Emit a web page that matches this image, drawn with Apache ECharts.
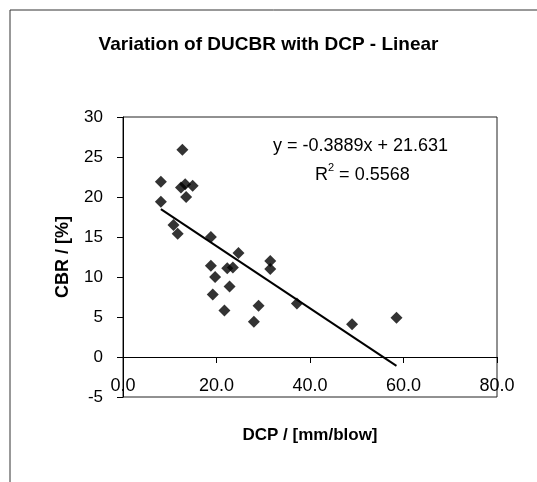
<!DOCTYPE html>
<html>
<head>
<meta charset="utf-8">
<script src="https://cdn.jsdelivr.net/npm/echarts@6/dist/echarts.min.js"></script>
<style>
html,body{margin:0;padding:0;background:#fff;}
#chart{width:537px;height:482px;}
</style>
</head>
<body>
<div id="chart"></div>
<script>
const chartTitle = 'Variation of DUCBR with DCP - Linear';
const xAxisTitle = 'DCP / [mm/blow]';
const yAxisTitle = 'CBR / [%]';
const dcp = [8.1, 8.1, 12.7, 12.4, 13.3, 14.9, 13.5, 10.8, 11.7, 18.8, 24.7, 18.8, 19.7, 22.3, 23.5, 22.8, 19.2, 21.7, 29.0, 28.0, 31.5, 31.5, 37.2, 49.0, 58.5];
const cbr = [21.9, 19.4, 25.9, 21.2, 21.6, 21.4, 20.0, 16.5, 15.4, 15.0, 13.0, 11.4, 10.0, 11.1, 11.2, 8.8, 7.8, 5.8, 6.4, 4.4, 12.0, 11.0, 6.7, 4.1, 4.9];
const slope = -0.3889;
const intercept = 21.631;
const r2 = 0.5568;

const points = dcp.map((x, i) => [x, cbr[i]]);
const xMin = Math.min(...dcp), xMax = Math.max(...dcp);
const trend = [[xMin, slope * xMin + intercept], [xMax, slope * xMax + intercept]];

const font = 'Liberation Sans, Arial, sans-serif';
const chart = echarts.init(document.getElementById('chart'));
chart.setOption({
  animation: false,
  backgroundColor: '#fff',
  title: {
    text: chartTitle, left: 'center', top: 30,
    textStyle: {fontFamily: font, fontSize: 19, fontWeight: 'bold', color: '#000'}
  },
  grid: {left: 123, top: 117, width: 374, height: 280, outerBoundsMode: 'none', containLabel: false, show: true, borderColor: '#222', borderWidth: 1, backgroundColor: 'transparent'},
  xAxis: {
    type: 'value', min: 0, max: 80, interval: 20,
    name: xAxisTitle, nameLocation: 'middle', nameGap: 30,
    nameTextStyle: {fontFamily: font, fontSize: 17, fontWeight: 'bold', color: '#000'},
    axisLine: {show: true, onZero: true, lineStyle: {color: '#000', width: 1}},
    axisTick: {show: true, length: 6, inside: false, lineStyle: {color: '#000'}},
    axisLabel: {fontFamily: font, fontSize: 18, color: '#000', margin: -20, formatter: v => v.toFixed(1)},
    splitLine: {show: false}
  },
  yAxis: {
    type: 'value', min: -5, max: 30, interval: 5,
    name: yAxisTitle, nameLocation: 'middle', nameGap: 51, nameRotate: 90,
    nameTextStyle: {fontFamily: font, fontSize: 18, fontWeight: 'bold', color: '#000'},
    axisLine: {show: true, onZero: false, lineStyle: {color: '#000', width: 1}},
    axisTick: {show: true, length: 6, lineStyle: {color: '#000'}},
    axisLabel: {fontFamily: font, fontSize: 17, color: '#000', margin: 20},
    splitLine: {show: false}
  },
  series: [
    {
      type: 'scatter', data: points, symbol: 'diamond', symbolSize: 12,
      itemStyle: {color: '#000'}, z: 3
    },
    {
      type: 'line', data: trend, symbol: 'none', silent: true,
      lineStyle: {color: '#000', width: 2}, z: 2
    }
  ],
  graphic: [
    {type: 'line', shape: {x1: 10, y1: 10, x2: 537, y2: 10}, style: {stroke: '#333', lineWidth: 1}},
    {type: 'line', shape: {x1: 10, y1: 10, x2: 10, y2: 482}, style: {stroke: '#333', lineWidth: 1}},
    {type: 'text', left: 273, top: 137, style: {
      text: 'y = ' + slope + 'x + ' + intercept, font: '18px ' + font, fill: '#000'}},
    {type: 'text', left: 315, top: 162, style: {
      text: '{b|R}{s|2}{b| = ' + r2 + '}', fill: '#000',
      rich: {b: {fontFamily: font, fontSize: 18, fill: '#000', verticalAlign: 'bottom', lineHeight: 22}, s: {fontFamily: font, fontSize: 11, fill: '#000', verticalAlign: 'top', lineHeight: 22, padding: [0,0,10,0]}}
    }}
  ]
});
</script>
</body>
</html>
